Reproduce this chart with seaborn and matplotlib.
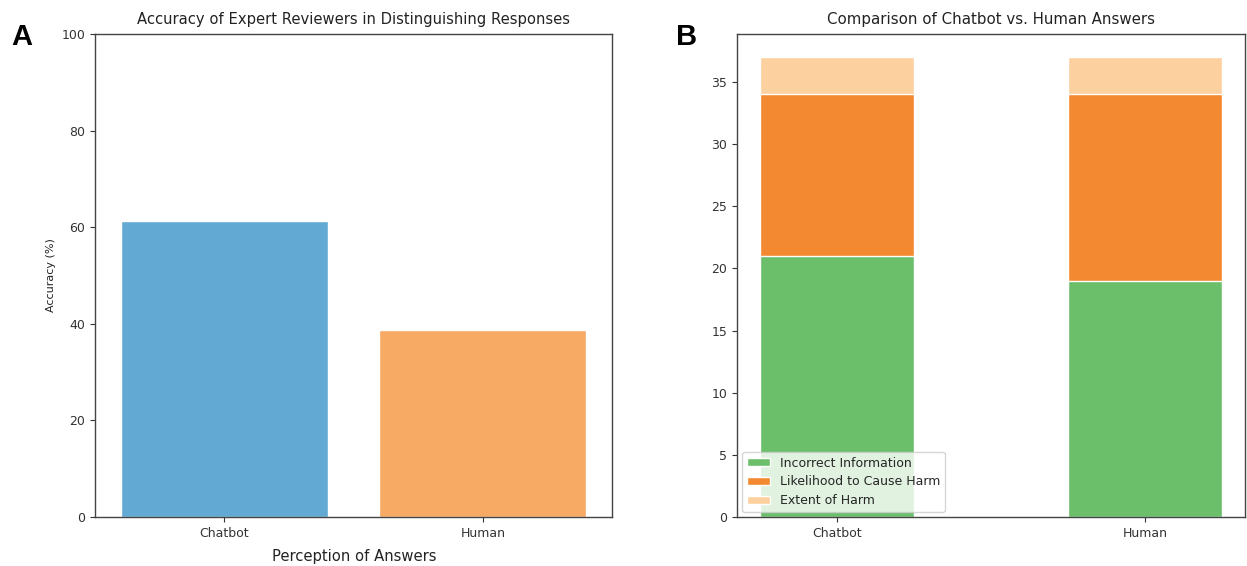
import matplotlib
matplotlib.use("Agg")
import matplotlib.pyplot as plt
from matplotlib.patches import Patch
import seaborn as sns
import pandas as pd

# Panel A: reviewer accuracy by perceived source
perception = ["Chatbot", "Human"]
accuracy = [61.3, 38.7]
accuracy_colors = ["#62aad4", "#f7aa64"]

# Panel B: counts of problem answers, stacked by category
sources = ["Chatbot", "Human"]
incorrect_info = [21, 19]
likelihood_harm = [13, 15]
extent_harm = [3, 3]
category_names = ["Incorrect Information", "Likelihood to Cause Harm", "Extent of Harm"]
category_colors = ["#6bbf6b", "#f38a31", "#fdd09f"]

sns.set_style("white")
plt.rcParams["font.family"] = ["DejaVu Sans"]

W, H = 1247, 566
fig = plt.figure(figsize=(W / 100, H / 100), dpi=100)

ax1 = fig.add_axes([95 / W, 49 / H, 517 / W, 483 / H])
ax2 = fig.add_axes([737 / W, 49 / H, 508 / W, 483 / H])

# --- Panel A ---
df_a = pd.DataFrame({"Perception": perception, "Accuracy": accuracy})
sns.barplot(data=df_a, x="Perception", y="Accuracy", hue="Perception",
            palette=accuracy_colors, width=0.8, saturation=1, legend=False, ax=ax1)
ax1.set_ylim(0, 100)
ax1.set_xlim(-0.5, 1.5)
ax1.set_title("Accuracy of Expert Reviewers in Distinguishing Responses", fontsize=10.6,
              color="#222222", pad=7)
ax1.set_ylabel("Accuracy (%)", fontsize=8, color="#222222")
ax1.set_xlabel("")
fig.text(354 / W, 1 - 557 / H, "Perception of Answers", ha="center", va="center",
         fontsize=10.6, color="#222222")

# --- Panel B ---
df_b = pd.DataFrame({"Source": sources, "inc": incorrect_info,
                     "lik": likelihood_harm, "ext": extent_harm})
bottom1 = df_b["inc"]
bottom2 = df_b["inc"] + df_b["lik"]
top = bottom2 + df_b["ext"]

# Draw cumulative totals from back to front so each layer shows its own segment
sns.barplot(x=sources, y=top, color=category_colors[2], width=0.5, saturation=1,
            edgecolor="white", linewidth=1, ax=ax2)
sns.barplot(x=sources, y=bottom2, color=category_colors[1], width=0.5, saturation=1,
            edgecolor="white", linewidth=1, ax=ax2)
sns.barplot(x=sources, y=bottom1, color=category_colors[0], width=0.5, saturation=1,
            edgecolor="white", linewidth=1, ax=ax2)
ax2.set_ylim(0, max(top) * 1.05)
ax2.set_xlim(-0.325, 1.325)
ax2.set_yticks(range(0, 36, 5))
ax2.set_title("Comparison of Chatbot vs. Human Answers", fontsize=10.8, color="#222222", pad=7)
ax2.set_xlabel("")
ax2.set_ylabel("")

handles = [Patch(facecolor=c, label=n) for c, n in zip(category_colors, category_names)]
ax2.legend(handles=handles, loc="lower left", fontsize=9, frameon=True,
           handlelength=1.8, handleheight=0.6, borderaxespad=0.4, labelspacing=0.45)

for ax in (ax1, ax2):
    ax.tick_params(axis="both", labelsize=9, length=3.5, width=0.8, colors="#333333",
                   left=True, bottom=True)
    for s in ax.spines.values():
        s.set_color("#444444")
        s.set_linewidth(1.0)

fig.text(22 / W, 1 - 37 / H, "A", fontsize=21, fontweight="bold", ha="center", va="center",
         family="Liberation Sans", color="black")
fig.text(687 / W, 1 - 37 / H, "B", fontsize=21, fontweight="bold", ha="center", va="center",
         family="Liberation Sans", color="black")

fig.savefig("out.png", dpi=100, facecolor="white")
